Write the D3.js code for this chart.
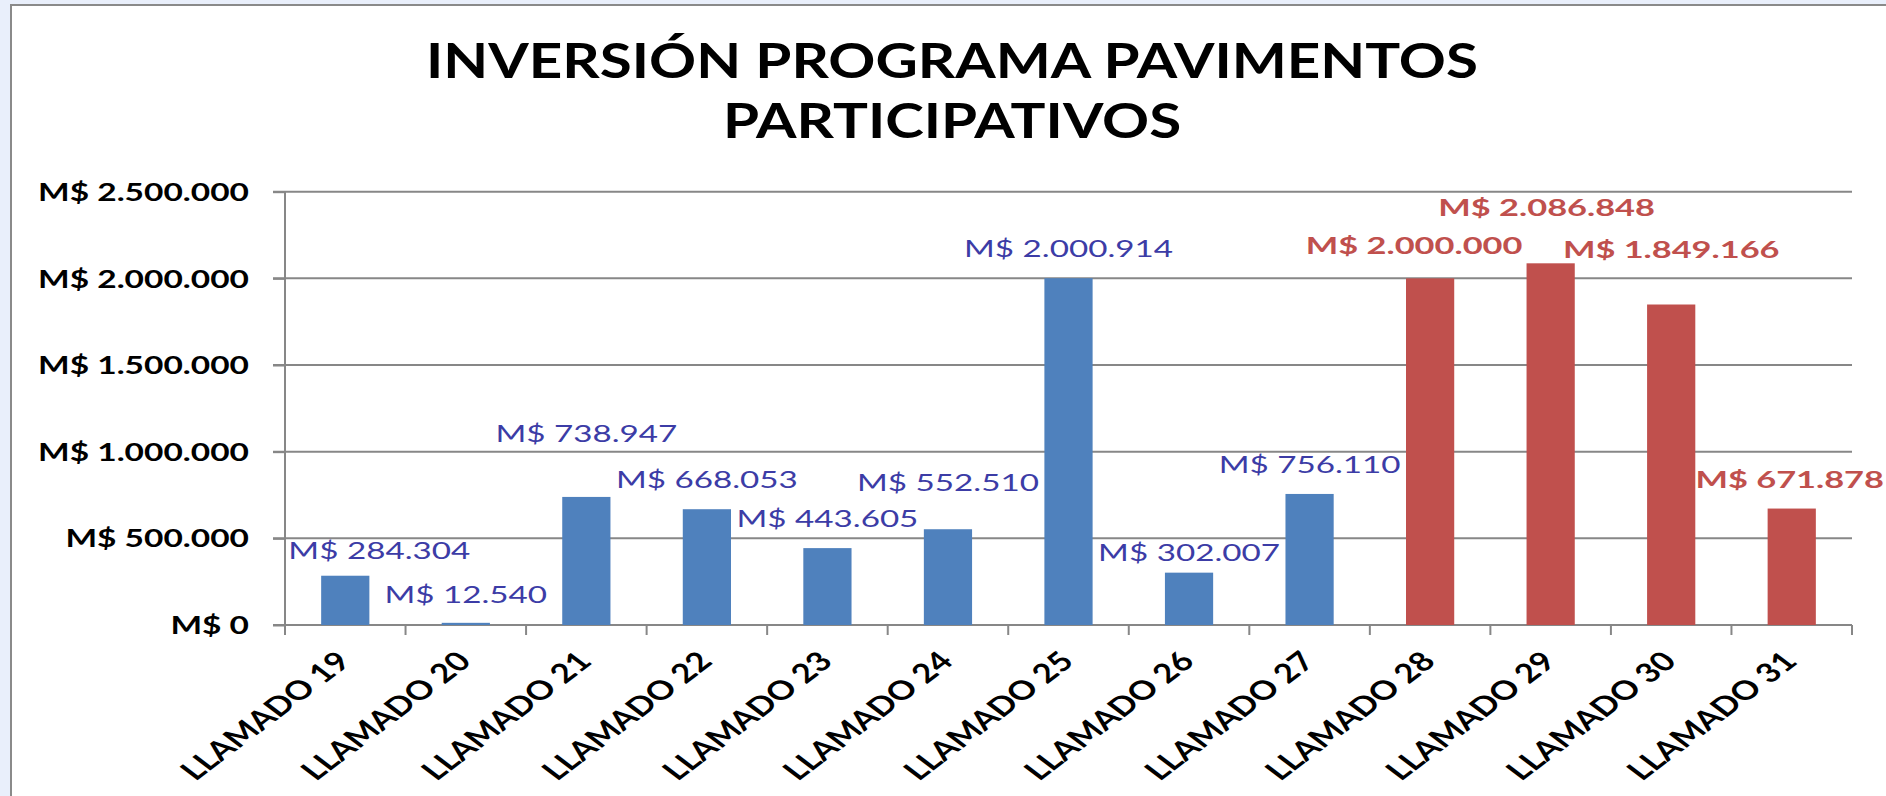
<!DOCTYPE html>
<html>
<head>
<meta charset="utf-8">
<script src="https://cdn.jsdelivr.net/npm/d3@7/dist/d3.min.js"></script>
<style>
  html, body { margin: 0; padding: 0; background: #e9effb; }
  svg { display: block; }
  text { font-family: Lato, "Open Sans", sans-serif; }
</style>
</head>
<body>
<svg id="chart" width="1886" height="796"></svg>
<script>
// ---- data ----
const categories = ["LLAMADO 19","LLAMADO 20","LLAMADO 21","LLAMADO 22","LLAMADO 23","LLAMADO 24","LLAMADO 25","LLAMADO 26","LLAMADO 27","LLAMADO 28","LLAMADO 29","LLAMADO 30","LLAMADO 31"];
const values = [284304, 12540, 738947, 668053, 443605, 552510, 2000914, 302007, 756110, 2000000, 2086848, 1849166, 671878];
const seriesGroup = ["a","a","a","a","a","a","a","a","a","b","b","b","b"];
const yTicks = [0, 500000, 1000000, 1500000, 2000000, 2500000];
const titleLines = ["INVERSIÓN PROGRAMA PAVIMENTOS", "PARTICIPATIVOS"];

// ---- layout (manual label nudges, as placed in the original) ----
const labelNudge = [[34,4],[0,1],[0,-34],[0,0],[0,0],[0,-17],[0,0],[0,9],[0,0],[-16,-3],[-4,-26],[0,-26],[-2,0]];

const barColor = {a: "#4f81bd", b: "#c0504d"};
const labelColor = {a: "#3c3ca6", b: "#c0504d"};
const gridColor = "#878787";

const svg = d3.select("#chart");
const W = 1886, H = 796;

// chart area background
svg.append("rect").attr("x", 0).attr("y", 0).attr("width", W).attr("height", H).attr("fill", "#e9effb");
svg.append("rect").attr("x", 11).attr("y", 5).attr("width", W).attr("height", H)
  .attr("fill", "#ffffff").attr("stroke", "#8a8a8a").attr("stroke-width", 2);

const x = d3.scaleBand().domain(categories).range([285, 1852]).paddingInner(0.6).paddingOuter(0.3);
const y = d3.scaleLinear().domain([0, 2500000]).range([625, 191.7]);

const loc = d3.formatLocale({decimal: ",", thousands: ".", grouping: [3], currency: ["M$ ", ""]});
const fmt = loc.format("$,.0f");

function stretchFor(sample, size, weight, target) {
  const t = svg.append("text").attr("font-size", size).attr("font-weight", weight).text(sample);
  const w = t.node().getComputedTextLength();
  t.remove();
  return target / w;
}

// title
const titleSize = 48;
const sxTitle = stretchFor(titleLines[0], titleSize, 700, 1052);
svg.append("g").selectAll("text").data(titleLines).join("text")
  .attr("text-anchor", "middle")
  .attr("font-size", titleSize).attr("font-weight", 700).attr("fill", "#000")
  .attr("transform", (d, i) => `translate(952,${78 + i * 60}) scale(${sxTitle},1)`)
  .text(d => d);

// gridlines
svg.append("g").selectAll("line").data(yTicks).join("line")
  .attr("x1", 273).attr("x2", x.range()[1])
  .attr("y1", d => y(d)).attr("y2", d => y(d))
  .attr("stroke", gridColor).attr("stroke-width", 2);

// y axis
const sxY = stretchFor("M$ 2.500.000", 24, 700, 211);
const yAxis = svg.append("g").attr("transform", "translate(285,0)")
  .call(d3.axisLeft(y).tickValues(yTicks).tickSize(12).tickFormat(fmt));
yAxis.select(".domain").remove();
yAxis.selectAll(".tick line").attr("stroke", gridColor).attr("stroke-width", 2);
yAxis.selectAll(".tick text")
  .attr("x", 0).attr("dy", "0.36em")
  .attr("transform", `translate(-36,0) scale(${sxY},1)`)
  .attr("font-size", 24).attr("font-weight", 700).attr("fill", "#000")
  .attr("font-family", "Lato, sans-serif");
svg.append("line").attr("x1", 285).attr("x2", 285).attr("y1", y(2500000)).attr("y2", 635)
  .attr("stroke", gridColor).attr("stroke-width", 2);

// bars
svg.append("g").selectAll("rect").data(categories).join("rect")
  .attr("x", d => x(d)).attr("width", x.bandwidth())
  .attr("y", (d, i) => y(values[i])).attr("height", (d, i) => y(0) - y(values[i]))
  .attr("fill", (d, i) => barColor[seriesGroup[i]]);

// x axis
const step = x.step();
const boundaries = d3.range(categories.length + 1).map(i => x.range()[0] + i * step);
svg.append("g").selectAll("line").data(boundaries).join("line")
  .attr("x1", d => d).attr("x2", d => d).attr("y1", y(0)).attr("y2", y(0) + 10)
  .attr("stroke", gridColor).attr("stroke-width", 2);

const xAxis = svg.append("g").attr("transform", `translate(0,${y(0)})`)
  .call(d3.axisBottom(x).tickSize(0));
xAxis.select(".domain").remove();
xAxis.selectAll(".tick text")
  .attr("x", 0).attr("y", 0).attr("dy", 0)
  .attr("text-anchor", "end")
  .attr("transform", `translate(7,38) scale(1.32,1) rotate(-45)`)
  .attr("font-size", 26.5).attr("font-weight", 700).attr("fill", "#000")
  .attr("font-family", "Lato, sans-serif");

// data labels
const sxA = stretchFor("M$ 284.304", 23, 400, 182);
const sxB = stretchFor("M$ 2.000.000", 23, 700, 216.7);
svg.append("g").selectAll("text").data(categories).join("text")
  .attr("text-anchor", "middle")
  .attr("font-size", 23)
  .attr("font-weight", (d, i) => seriesGroup[i] === "b" ? 700 : 400)
  .attr("fill", (d, i) => labelColor[seriesGroup[i]])
  .attr("transform", (d, i) => {
    const cx = x(d) + x.bandwidth() / 2 + labelNudge[i][0];
    const by = y(values[i]) - 21 + labelNudge[i][1];
    const s = seriesGroup[i] === "b" ? sxB : sxA;
    return `translate(${cx},${by}) scale(${s},1)`;
  })
  .text((d, i) => fmt(values[i]));
</script>
</body>
</html>
